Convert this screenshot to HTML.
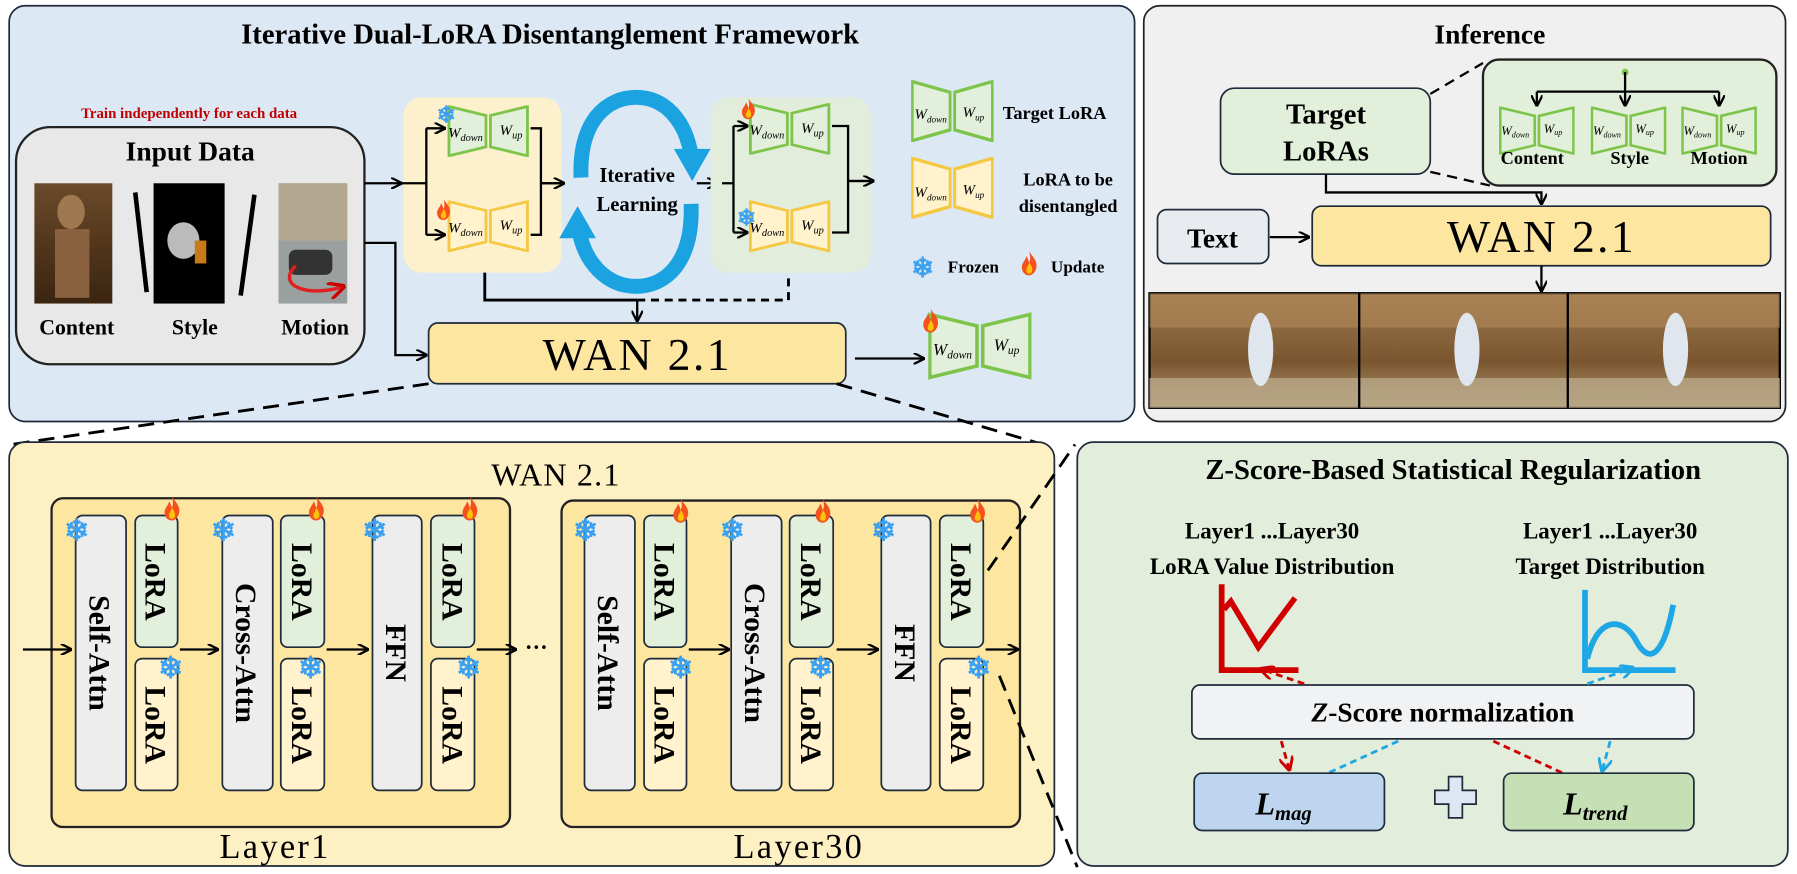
<!DOCTYPE html>
<html><head><meta charset="utf-8"><style>
html,body{margin:0;padding:0;background:#fff}
svg{display:block}
text{font-family:"Liberation Serif",serif;font-weight:bold;fill:#000}
.it{font-style:italic;font-weight:normal}
</style></head><body>
<svg width="1797" height="874" viewBox="0 0 1568 763" preserveAspectRatio="none" xmlns="http://www.w3.org/2000/svg">
<defs>
<marker id="ar" viewBox="0 0 10 10" refX="9" refY="5" markerWidth="5" markerHeight="5" orient="auto"><path d="M0,0 L10,5 L0,10" fill="none" stroke="#000" stroke-width="2"/></marker>
<marker id="ra" viewBox="0 0 10 10" refX="9" refY="5" markerWidth="5" markerHeight="5" orient="auto"><path d="M0,0 L10,5 L0,10" fill="none" stroke="#c00" stroke-width="2"/></marker>
<marker id="ba" viewBox="0 0 10 10" refX="9" refY="5" markerWidth="5" markerHeight="5" orient="auto"><path d="M0,0 L10,5 L0,10" fill="none" stroke="#1ea7e4" stroke-width="2"/></marker>
<symbol id="g" viewBox="0 0 72 46" overflow="visible"><polygon points="1,1 34,9 34,37 1,45" fill="#e2efda" stroke="#7dc44a" stroke-width="2.5"/><polygon points="38,9 71,1 71,45 38,37" fill="#e2efda" stroke="#7dc44a" stroke-width="2.5"/></symbol>
<symbol id="y" viewBox="0 0 72 46" overflow="visible"><polygon points="1,1 34,9 34,37 1,45" fill="#fff2cc" stroke="#f5c842" stroke-width="2.5"/><polygon points="38,9 71,1 71,45 38,37" fill="#fff2cc" stroke="#f5c842" stroke-width="2.5"/></symbol>
<symbol id="fl" viewBox="0 0 20 26" overflow="visible"><path d="M10,0 C14,6 19,10 18,17 C17,23 13,26 10,26 C6,26 2,23 2,17 C2,12 6,10 7,5 C9,8 9,10 10,12 C12,8 11,4 10,0Z" fill="#f4511e"/><path d="M10,12 C13,16 14,19 13,22 C12,25 8,25 7,22 C6,19 9,16 10,12Z" fill="#ffc107"/></symbol>
<linearGradient id="p1" x1="0" y1="0" x2="0" y2="1"><stop offset="0" stop-color="#6b4a2a"/><stop offset="1" stop-color="#3a2410"/></linearGradient>
<linearGradient id="sc" x1="0" y1="0" x2="0" y2="1"><stop offset="0" stop-color="#9c7a4e"/><stop offset=".6" stop-color="#7a5630"/><stop offset="1" stop-color="#b09a74"/></linearGradient>
</defs>

<!-- top-left panel -->
<rect x="8" y="5" width="982" height="363" rx="14" fill="#dde8f5" stroke="#1f2a3a" stroke-width="1.5"/>
<text x="480" y="38" font-size="25" text-anchor="middle">Iterative Dual-LoRA Disentanglement Framework</text>
<text x="165" y="103" font-size="13" style="fill:#c00000" text-anchor="middle">Train independently for each data</text>
<rect x="14" y="111" width="304" height="207" rx="30" fill="#e8e8e8" stroke="#222" stroke-width="2"/>
<text x="166" y="140" font-size="24" text-anchor="middle">Input Data</text>
<rect x="30" y="160" width="68" height="105" fill="url(#p1)"/>
<ellipse cx="62" cy="185" rx="12" ry="15" fill="#a07850"/><rect x="48" y="200" width="30" height="60" fill="#8a6240"/>
<rect x="134" y="160" width="62" height="105" fill="#000"/>
<ellipse cx="160" cy="210" rx="14" ry="16" fill="#bbb"/><rect x="170" y="210" width="10" height="20" fill="#c87a1a"/>
<line x1="128" y1="255" x2="118" y2="168" stroke="#000" stroke-width="4"/>
<line x1="222" y1="170" x2="210" y2="258" stroke="#000" stroke-width="4"/>
<rect x="243" y="160" width="60" height="105" fill="#9aa0a0"/>
<rect x="243" y="160" width="60" height="50" fill="#b5a890"/>
<rect x="252" y="218" width="38" height="22" rx="6" fill="#333"/>
<path d="M258,232 C240,250 270,260 300,250" fill="none" stroke="#e02020" stroke-width="3" marker-end="url(#ra)"/>
<text x="67" y="292" font-size="19" text-anchor="middle">Content</text>
<text x="170" y="292" font-size="19" text-anchor="middle">Style</text>
<text x="275" y="292" font-size="19" text-anchor="middle">Motion</text>

<!-- yellow lora box -->
<rect x="352" y="85" width="138" height="153" rx="16" fill="#fdf0cc"/>
<svg x="389" y="92" width="74" height="45" viewBox="0 0 72 46"><use href="#g"/></svg>
<svg x="389" y="175" width="74" height="45" viewBox="0 0 72 46"><use href="#y"/></svg>
<text x="391" y="120" font-size="13" class="it">W<tspan font-size="9" dy="3">down</tspan></text>
<text x="436" y="118" font-size="13" class="it">W<tspan font-size="9" dy="3">up</tspan></text>
<text x="391" y="203" font-size="13" class="it">W<tspan font-size="9" dy="3">down</tspan></text>
<text x="436" y="201" font-size="13" class="it">W<tspan font-size="9" dy="3">up</tspan></text>
<text x="381" y="107" font-size="20" style="fill:#3aa0ef">❄</text>
<use href="#fl" x="380" y="173" width="14" height="20"/>
<path d="M350,160 H372 M372,112 V205" fill="none" stroke="#000" stroke-width="2"/>
<path d="M372,112 H388" stroke="#000" stroke-width="2" marker-end="url(#ar)"/>
<path d="M372,205 H388" stroke="#000" stroke-width="2" marker-end="url(#ar)"/>
<path d="M463,112 H472 V205 H463 M472,160 H490" fill="none" stroke="#000" stroke-width="2"/>
<path d="M472,160 H492" stroke="#000" stroke-width="2" marker-end="url(#ar)"/>

<!-- blue circular arrows -->
<path d="M507,155 C505,105 530,85 555,85 C580,85 598,105 603,135" fill="none" stroke="#1aa3e0" stroke-width="13"/>
<polygon points="588,130 620,130 604,158" fill="#1aa3e0"/>
<path d="M603,178 C605,230 580,250 555,250 C530,250 510,230 505,200" fill="none" stroke="#1aa3e0" stroke-width="13"/>
<polygon points="488,208 520,208 504,180" fill="#1aa3e0"/>
<text x="556" y="159" font-size="18" text-anchor="middle">Iterative</text>
<text x="556" y="184" font-size="18" text-anchor="middle">Learning</text>
<path d="M608,160 H626" stroke="#000" stroke-width="2" marker-end="url(#ar)"/>

<!-- green lora box -->
<rect x="620" y="85" width="140" height="153" rx="16" fill="#e2eedb"/>
<svg x="652" y="90" width="74" height="45" viewBox="0 0 72 46"><use href="#g"/></svg>
<svg x="652" y="175" width="74" height="45" viewBox="0 0 72 46"><use href="#y"/></svg>
<text x="654" y="118" font-size="13" class="it">W<tspan font-size="9" dy="3">down</tspan></text>
<text x="699" y="116" font-size="13" class="it">W<tspan font-size="9" dy="3">up</tspan></text>
<text x="654" y="203" font-size="13" class="it">W<tspan font-size="9" dy="3">down</tspan></text>
<text x="699" y="201" font-size="13" class="it">W<tspan font-size="9" dy="3">up</tspan></text>
<use href="#fl" x="646" y="85" width="14" height="20"/>
<text x="643" y="197" font-size="20" style="fill:#3aa0ef">❄</text>
<path d="M630,160 H640 V110 M640,160 V203" fill="none" stroke="#000" stroke-width="2"/>
<path d="M640,110 H652" stroke="#000" stroke-width="2" marker-end="url(#ar)"/>
<path d="M640,203 H652" stroke="#000" stroke-width="2" marker-end="url(#ar)"/>
<path d="M726,110 H740 V203 H726 M740,158 H760" fill="none" stroke="#000" stroke-width="2"/>
<path d="M740,158 H762" stroke="#000" stroke-width="2" marker-end="url(#ar)"/>

<!-- legend -->
<svg x="795" y="70" width="72" height="54" viewBox="0 0 72 46" preserveAspectRatio="none"><use href="#g"/></svg>
<text x="798" y="104" font-size="13" class="it">W<tspan font-size="8" dy="3">down</tspan></text>
<text x="840" y="102" font-size="13" class="it">W<tspan font-size="8" dy="3">up</tspan></text>
<text x="875" y="104" font-size="16">Target LoRA</text>
<svg x="795" y="137" width="72" height="54" viewBox="0 0 72 46" preserveAspectRatio="none"><use href="#y"/></svg>
<text x="798" y="172" font-size="13" class="it">W<tspan font-size="8" dy="3">down</tspan></text>
<text x="840" y="170" font-size="13" class="it">W<tspan font-size="8" dy="3">up</tspan></text>
<text x="932" y="162" font-size="16" text-anchor="middle">LoRA to be</text>
<text x="932" y="185" font-size="16" text-anchor="middle">disentangled</text>
<text x="795" y="242" font-size="24" style="fill:#3aa0ef">❄</text>
<text x="827" y="238" font-size="15">Frozen</text>
<use href="#fl" x="890" y="218" width="16" height="24"/>
<text x="917" y="238" font-size="15">Update</text>

<!-- connectors to WAN -->
<path d="M318,160 H350" stroke="#000" stroke-width="2" marker-end="url(#ar)"/>
<path d="M318,212 H345 V310 H372" fill="none" stroke="#000" stroke-width="2" marker-end="url(#ar)"/>
<path d="M423,238 V262 H556" fill="none" stroke="#000" stroke-width="2.5"/>
<path d="M556,262 H688 V238" fill="none" stroke="#000" stroke-width="2.5" stroke-dasharray="7,5"/>
<path d="M556,262 V280" stroke="#000" stroke-width="2" marker-end="url(#ar)"/>
<rect x="374" y="282" width="364" height="53" rx="8" fill="#fde6a0" stroke="#1f2a3a" stroke-width="1.5"/>
<text x="556" y="323" font-size="40" text-anchor="middle" style="font-weight:normal" letter-spacing="2">WAN 2.1</text>
<path d="M746,313 H806" stroke="#000" stroke-width="2" marker-end="url(#ar)"/>
<svg x="810" y="272" width="90" height="60" viewBox="0 0 72 46"><use href="#g"/></svg>
<text x="814" y="310" font-size="15" class="it">W<tspan font-size="10" dy="3">down</tspan></text>
<text x="867" y="306" font-size="15" class="it">W<tspan font-size="10" dy="3">up</tspan></text>
<use href="#fl" x="804" y="268" width="16" height="24"/>

<!-- inference panel -->
<rect x="998" y="5" width="560" height="363" rx="14" fill="#f0f0f0" stroke="#222" stroke-width="1.5"/>
<text x="1300" y="38" font-size="24" text-anchor="middle">Inference</text>
<rect x="1065" y="77" width="183" height="75" rx="12" fill="#e2efda" stroke="#1f2a3a" stroke-width="1.5"/>
<text x="1157" y="108" font-size="25" text-anchor="middle">Target</text>
<text x="1157" y="140" font-size="25" text-anchor="middle">LoRAs</text>
<rect x="1294" y="52" width="256" height="110" rx="14" fill="#e2efda" stroke="#222" stroke-width="2"/>
<path d="M1248,82 L1294,55 M1248,150 L1300,162" stroke="#000" stroke-width="2" stroke-dasharray="9,6"/>
<circle cx="1418" cy="63" r="3" fill="#7dc44a"/>
<path d="M1418,63 V80 M1341,80 H1500" stroke="#000" stroke-width="2"/>
<path d="M1341,80 V92" stroke="#000" stroke-width="2" marker-end="url(#ar)"/>
<path d="M1418,80 V92" stroke="#000" stroke-width="2" marker-end="url(#ar)"/>
<path d="M1500,80 V92" stroke="#000" stroke-width="2" marker-end="url(#ar)"/>
<svg x="1308" y="93" width="66" height="42" viewBox="0 0 72 46"><use href="#g"/></svg>
<svg x="1388" y="93" width="66" height="42" viewBox="0 0 72 46"><use href="#g"/></svg>
<svg x="1467" y="93" width="66" height="42" viewBox="0 0 72 46"><use href="#g"/></svg>
<text x="1310" y="118" font-size="11" class="it">W<tspan font-size="7" dy="2">down</tspan></text>
<text x="1347" y="116" font-size="11" class="it">W<tspan font-size="7" dy="2">up</tspan></text>
<text x="1390" y="118" font-size="11" class="it">W<tspan font-size="7" dy="2">down</tspan></text>
<text x="1427" y="116" font-size="11" class="it">W<tspan font-size="7" dy="2">up</tspan></text>
<text x="1469" y="118" font-size="11" class="it">W<tspan font-size="7" dy="2">down</tspan></text>
<text x="1506" y="116" font-size="11" class="it">W<tspan font-size="7" dy="2">up</tspan></text>
<text x="1337" y="143" font-size="16" text-anchor="middle">Content</text>
<text x="1422" y="143" font-size="16" text-anchor="middle">Style</text>
<text x="1500" y="143" font-size="16" text-anchor="middle">Motion</text>
<path d="M1157,152 V168 H1345 V178" fill="none" stroke="#000" stroke-width="2" marker-end="url(#ar)"/>
<rect x="1010" y="183" width="97" height="47" rx="8" fill="#e8ecf0" stroke="#1f2a3a" stroke-width="1.5"/>
<text x="1058" y="216" font-size="24" text-anchor="middle">Text</text>
<path d="M1108,207 H1142" stroke="#000" stroke-width="2" marker-end="url(#ar)"/>
<rect x="1145" y="180" width="400" height="52" rx="8" fill="#fde6a0" stroke="#1f2a3a" stroke-width="1.5"/>
<text x="1345" y="220" font-size="40" text-anchor="middle" style="font-weight:normal" letter-spacing="2">WAN 2.1</text>
<path d="M1345,232 V254" stroke="#000" stroke-width="2" marker-end="url(#ar)"/>
<rect x="1003" y="256" width="550" height="100" fill="url(#sc)" stroke="#000" stroke-width="2"/>
<rect x="1003" y="256" width="550" height="30" fill="#b08858" opacity=".6"/>
<rect x="1003" y="330" width="550" height="26" fill="#b9a888" opacity=".8"/>
<line x1="1186" y1="256" x2="1186" y2="356" stroke="#000" stroke-width="2"/>
<line x1="1368" y1="256" x2="1368" y2="356" stroke="#000" stroke-width="2"/>
<ellipse cx="1100" cy="305" rx="11" ry="32" fill="#dfe6ee"/>
<ellipse cx="1280" cy="305" rx="11" ry="32" fill="#dfe6ee"/>
<ellipse cx="1462" cy="305" rx="11" ry="32" fill="#dfe6ee"/>

<!-- dashed zoom lines -->
<path d="M374,335 L10,388" stroke="#000" stroke-width="2.5" stroke-dasharray="14,8"/>
<path d="M730,335 L910,388" stroke="#000" stroke-width="2.5" stroke-dasharray="14,8"/>

<!-- bottom-left panel -->
<rect x="8" y="386" width="912" height="370" rx="14" fill="#fdf0c2" stroke="#1f2a3a" stroke-width="1.5"/>
<text x="485" y="424" font-size="28" text-anchor="middle" style="font-weight:normal" letter-spacing="1">WAN 2.1</text>
<rect x="45" y="435" width="400" height="287" rx="10" fill="#fde6a0" stroke="#222" stroke-width="2"/>
<rect x="490" y="437" width="400" height="285" rx="10" fill="#fde6a0" stroke="#222" stroke-width="2"/>
<text x="240" y="749" font-size="30" text-anchor="middle" style="font-weight:normal" letter-spacing="2">Layer1</text>
<text x="697" y="749" font-size="30" text-anchor="middle" style="font-weight:normal" letter-spacing="2">Layer30</text>

<g id="L1">
<rect x="66" y="450" width="44" height="240" rx="6" fill="#ededed" stroke="#1f2a3a" stroke-width="1.5"/>
<rect x="118" y="450" width="37" height="115" rx="6" fill="#e2efda" stroke="#1f2a3a" stroke-width="1.5"/>
<rect x="118" y="575" width="37" height="115" rx="6" fill="#fff2cc" stroke="#1f2a3a" stroke-width="1.5"/>
<rect x="194" y="450" width="44" height="240" rx="6" fill="#ededed" stroke="#1f2a3a" stroke-width="1.5"/>
<rect x="245" y="450" width="38" height="115" rx="6" fill="#e2efda" stroke="#1f2a3a" stroke-width="1.5"/>
<rect x="245" y="575" width="38" height="115" rx="6" fill="#fff2cc" stroke="#1f2a3a" stroke-width="1.5"/>
<rect x="325" y="450" width="43" height="240" rx="6" fill="#ededed" stroke="#1f2a3a" stroke-width="1.5"/>
<rect x="376" y="450" width="38" height="115" rx="6" fill="#e2efda" stroke="#1f2a3a" stroke-width="1.5"/>
<rect x="376" y="575" width="38" height="115" rx="6" fill="#fff2cc" stroke="#1f2a3a" stroke-width="1.5"/>
</g>
<use href="#L1" x="444" y="0"/>

<g font-size="26">
<text transform="translate(78,570) rotate(90)" text-anchor="middle">Self-Attn</text>
<text transform="translate(127,508) rotate(90)" text-anchor="middle">LoRA</text>
<text transform="translate(127,633) rotate(90)" text-anchor="middle">LoRA</text>
<text transform="translate(206,570) rotate(90)" text-anchor="middle">Cross-Attn</text>
<text transform="translate(255,508) rotate(90)" text-anchor="middle">LoRA</text>
<text transform="translate(255,633) rotate(90)" text-anchor="middle">LoRA</text>
<text transform="translate(337,570) rotate(90)" text-anchor="middle">FFN</text>
<text transform="translate(386,508) rotate(90)" text-anchor="middle">LoRA</text>
<text transform="translate(386,633) rotate(90)" text-anchor="middle">LoRA</text>
<text transform="translate(522,570) rotate(90)" text-anchor="middle">Self-Attn</text>
<text transform="translate(571,508) rotate(90)" text-anchor="middle">LoRA</text>
<text transform="translate(571,633) rotate(90)" text-anchor="middle">LoRA</text>
<text transform="translate(650,570) rotate(90)" text-anchor="middle">Cross-Attn</text>
<text transform="translate(699,508) rotate(90)" text-anchor="middle">LoRA</text>
<text transform="translate(699,633) rotate(90)" text-anchor="middle">LoRA</text>
<text transform="translate(781,570) rotate(90)" text-anchor="middle">FFN</text>
<text transform="translate(830,508) rotate(90)" text-anchor="middle">LoRA</text>
<text transform="translate(830,633) rotate(90)" text-anchor="middle">LoRA</text>
</g>

<g font-size="26">
<text x="56" y="472" style="fill:#3aa0ef">❄</text><text x="184" y="472" style="fill:#3aa0ef">❄</text><text x="316" y="472" style="fill:#3aa0ef">❄</text>
<text x="500" y="472" style="fill:#3aa0ef">❄</text><text x="628" y="472" style="fill:#3aa0ef">❄</text><text x="760" y="472" style="fill:#3aa0ef">❄</text>
<text x="138" y="592" style="fill:#3aa0ef">❄</text><text x="260" y="592" style="fill:#3aa0ef">❄</text><text x="398" y="592" style="fill:#3aa0ef">❄</text>
<text x="583" y="592" style="fill:#3aa0ef">❄</text><text x="705" y="592" style="fill:#3aa0ef">❄</text><text x="843" y="592" style="fill:#3aa0ef">❄</text>
</g>
<use href="#fl" x="142" y="432" width="16" height="24"/><use href="#fl" x="268" y="432" width="16" height="24"/><use href="#fl" x="402" y="432" width="16" height="24"/>
<use href="#fl" x="586" y="434" width="16" height="24"/><use href="#fl" x="710" y="434" width="16" height="24"/><use href="#fl" x="845" y="434" width="16" height="24"/>

<g stroke="#000" stroke-width="2">
<path d="M20,567 H62" marker-end="url(#ar)"/>
<path d="M157,567 H190" marker-end="url(#ar)"/>
<path d="M285,567 H321" marker-end="url(#ar)"/>
<path d="M416,567 H450" marker-end="url(#ar)"/>
<path d="M601,567 H636" marker-end="url(#ar)"/>
<path d="M730,567 H766" marker-end="url(#ar)"/>
<path d="M860,567 H888" marker-end="url(#ar)"/>
</g>
<text x="468" y="572" font-size="20" text-anchor="middle">···</text>

<path d="M862,498 L938,388" stroke="#000" stroke-width="2.5" stroke-dasharray="14,8"/>
<path d="M872,590 L940,757" stroke="#000" stroke-width="2.5" stroke-dasharray="14,8"/>

<!-- bottom-right panel -->
<rect x="940" y="386" width="620" height="370" rx="14" fill="#e2eedb" stroke="#1f2a3a" stroke-width="1.5"/>
<text x="1268" y="418" font-size="25" text-anchor="middle">Z-Score-Based Statistical Regularization</text>
<g font-size="20" style="font-weight:normal" text-anchor="middle">
<text x="1110" y="470">Layer1 ...Layer30</text>
<text x="1110" y="501">LoRA Value Distribution</text>
<text x="1405" y="470">Layer1 ...Layer30</text>
<text x="1405" y="501">Target Distribution</text>
</g>
<path d="M1066,510 V585 H1133" fill="none" stroke="#d00000" stroke-width="5"/>
<path d="M1068,532 L1074,525 L1098,565 L1130,522" fill="none" stroke="#d00000" stroke-width="5"/>
<path d="M1383,515 V585 H1462" fill="none" stroke="#1ea7e4" stroke-width="5"/>
<path d="M1385,575 C1395,535 1418,540 1428,560 C1440,582 1452,570 1460,528" fill="none" stroke="#1ea7e4" stroke-width="5"/>
<rect x="1040" y="598" width="438" height="47" rx="7" fill="#f0f2f4" stroke="#1f2a3a" stroke-width="1.5"/>
<text x="1259" y="630" font-size="24" text-anchor="middle"><tspan style="font-style:italic">Z</tspan>-Score normalization</text>
<g stroke-width="2.5" stroke-dasharray="6,4" fill="none">
<path d="M1138,597 L1100,584" stroke="#c00" marker-end="url(#ra)"/>
<path d="M1385,597 L1425,583" stroke="#1ea7e4" marker-end="url(#ba)"/>
<path d="M1118,647 L1125,672" stroke="#c00" marker-end="url(#ra)"/>
<path d="M1220,647 L1130,688" stroke="#1ea7e4" marker-end="url(#ba)"/>
<path d="M1303,647 L1392,688" stroke="#c00" marker-end="url(#ra)"/>
<path d="M1405,647 L1398,673" stroke="#1ea7e4" marker-end="url(#ba)"/>
</g>
<rect x="1042" y="675" width="166" height="50" rx="7" fill="#bdd5ee" stroke="#1f2a3a" stroke-width="1.5"/>
<text x="1120" y="711" font-size="28" text-anchor="middle" style="font-style:italic">L<tspan font-size="18" dy="5">mag</tspan></text>
<path d="M1252,690 h12 v-12 h12 v12 h12 v12 h-12 v12 h-12 v-12 h-12 z" fill="#dde6f2" stroke="#1f2a3a" stroke-width="1.5"/>
<rect x="1312" y="675" width="166" height="50" rx="7" fill="#c5e0b4" stroke="#1f2a3a" stroke-width="1.5"/>
<text x="1392" y="711" font-size="28" text-anchor="middle" style="font-style:italic">L<tspan font-size="18" dy="5">trend</tspan></text>
</svg>
</body></html>
